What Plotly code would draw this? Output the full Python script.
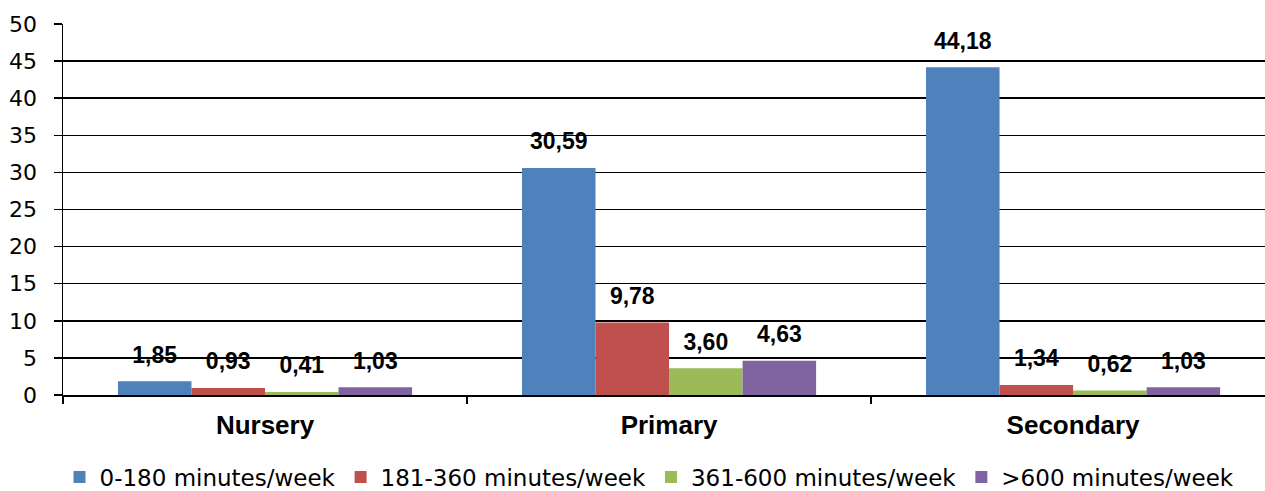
import plotly.graph_objects as go

categories = ["Nursery", "Primary", "Secondary"]
series_names = ["0-180 minutes/week", "181-360 minutes/week",
                "361-600 minutes/week", ">600 minutes/week"]
v_0_180 = [1.85, 30.59, 44.18]
v_181_360 = [0.93, 9.78, 1.34]
v_361_600 = [0.41, 3.60, 0.62]
v_over_600 = [1.03, 4.63, 1.03]
series_values = [v_0_180, v_181_360, v_361_600, v_over_600]
colors = ["#4F81BD", "#C0504D", "#9BBB59", "#8064A2"]
y_ticks = [0, 5, 10, 15, 20, 25, 30, 35, 40, 45, 50]


def fmt(v):
    return f"{v:.2f}".replace(".", ",")


fig = go.Figure()
for i, (name, vals, col) in enumerate(zip(series_names, series_values, colors)):
    fig.add_trace(go.Bar(
        x=categories, y=vals, name=name, marker_color=col,
        marker_line_width=0, offsetgroup=f"g{i}", hoverinfo="skip",
    ))
for i, vals in enumerate(series_values):
    fig.add_trace(go.Scatter(
        x=categories, y=vals, mode="markers+text", text=[fmt(v) for v in vals],
        textposition="top center", offsetgroup=f"g{i}", showlegend=False,
        marker=dict(size=19, opacity=0, color="black"), cliponaxis=False,
        textfont=dict(family="Liberation Sans", size=23, color="black", weight="bold"),
        hoverinfo="skip",
    ))

fig.update_layout(
    width=1265, height=491,
    margin=dict(l=63, r=0, t=24, b=96, pad=0),
    paper_bgcolor="white", plot_bgcolor="white",
    barmode="group", bargap=0.272, bargroupgap=0,
    scattermode="group", scattergap=0.272,
    showlegend=True,
    legend=dict(
        orientation="h", xref="container", yref="container",
        x=(632.5 + 17) / 1265, xanchor="center", y=14 / 491, yanchor="middle",
        font=dict(family="DejaVu Sans", size=23, color="black"),
        traceorder="normal", itemclick=False, itemdoubleclick=False,
    ),
    xaxis=dict(
        type="category", range=[-0.5, 2.475],
        showline=True, linecolor="black", linewidth=1.5,
        ticks="outside", tickson="boundaries", ticklen=7, tickwidth=1.5, tickcolor="black",
        showgrid=False, zeroline=False,
        tickfont=dict(family="Liberation Sans", size=26, color="black", weight="bold"),
        ticklabelstandoff=6,
    ),
    yaxis=dict(
        range=[0, 50], tickvals=y_ticks,
        showline=True, linecolor="black", linewidth=1.5,
        ticks="outside", ticklen=8, tickwidth=1.5, tickcolor="black",
        showgrid=True, gridcolor="black", gridwidth=1.5,
        zeroline=False,
        tickfont=dict(family="DejaVu Sans", size=22, color="black"),
        ticklabelstandoff=12,
    ),
)

fig.write_html(
    "out.html",
    config={"displayModeBar": False, "staticPlot": True},
    post_script="document.body.style.margin='0';document.body.style.overflow='hidden';",
)
